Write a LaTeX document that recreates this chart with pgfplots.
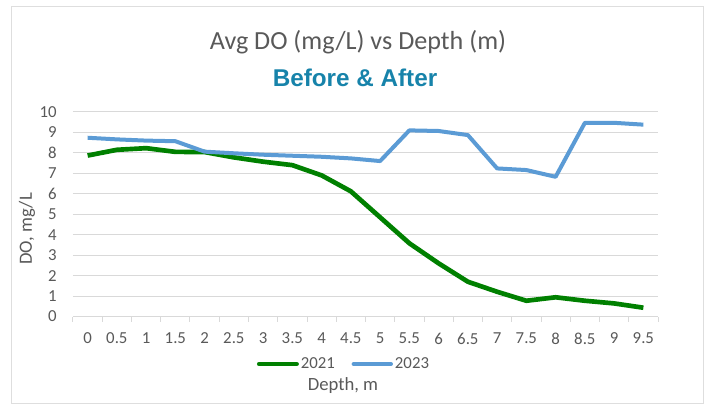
\documentclass[border=0pt]{standalone}
\usepackage{pgfplots}
\pgfplotsset{compat=1.18}
\usepackage{fontspec}
\setmainfont{Carlito}
\newfontfamily\subfont{Liberation Sans}

\definecolor{txt}{RGB}{89,89,89}
\definecolor{gridc}{RGB}{217,217,217}
\definecolor{frame}{RGB}{222,222,222}
\definecolor{c2021}{RGB}{0,128,0}
\definecolor{c2023}{RGB}{91,155,213}
\definecolor{subc}{RGB}{23,131,170}

\begin{document}
\begin{tikzpicture}
\begin{scope}[x=0.75pt,y=-0.75pt]
  \path (0,0) rectangle (711,411);
  \draw[frame, line width=0.9pt] (11.5,6.5) rectangle (703.5,403.5);
  \node[txt, font=\fontsize{19.6}{23}\selectfont] at (358,42) {Avg DO (mg/L) vs Depth (m)};
  \node[subc, font=\subfont\bfseries\fontsize{18.2}{22}\selectfont] at (355,78) {Before \& After};
\end{scope}
\begin{axis}[
  at={(54.75pt,-237.375pt)}, anchor=south west,
  scale only axis, width=438.75pt, height=153.4pt,
  xmin=-0.5, xmax=19.5, ymin=0, ymax=10,
  axis x line*=bottom, axis y line*=left,
  y axis line style={draw=none},
  x axis line style={gridc, line width=0.75pt},
  ymajorgrids, grid style={gridc, line width=0.75pt},
  ytick={0,1,...,10},
  xtick={0,1,...,19},
  xticklabels={0,0.5,1,1.5,2,2.5,3,3.5,4,4.5,5,5.5,6,6.5,7,7.5,8,8.5,9,9.5},
  minor xtick={-0.5,0.5,...,19.5},
  major tick length=0pt, minor tick length=3.75pt,
  tick align=outside,
  major tick style={draw=none},
  minor x tick style={gridc, line width=0.75pt},
  /pgf/number format/assume math mode=true,
  tick label style={txt, font=\fontsize{12.6}{15}\selectfont, inner sep=0pt},
  xticklabel style={anchor=north, yshift=-12pt},
  yticklabel style={anchor=east, xshift=-12pt},
  ylabel={DO, mg/L}, xlabel={Depth, m},
  every axis y label/.style={at={(axis description cs:-0.0786,0.428)}, rotate=90,
    anchor=center, text=txt, font=\fontsize{14}{17}\selectfont},
  every axis x label/.style={at={(axis description cs:0.4615,-0.335)},
    anchor=center, text=txt, font=\fontsize{14}{17}\selectfont},
  legend columns=2,
  legend style={at={(axis description cs:0.4632,-0.232)}, anchor=center,
    draw=none, fill=none, inner sep=0pt,
    font=\fontsize{12.6}{15}\selectfont, text=txt,
    nodes={inner sep=1.5pt},
    /tikz/every even column/.append style={column sep=11pt}},
  legend image code/.code={\draw[#1, line cap=round] (0pt,0pt) -- (28pt,0pt);},
  line join=round,
]
\addplot[c2021, line width=3.5pt] coordinates {
  (0,7.87) (1,8.15) (2,8.23) (3,8.05) (4,8.04) (5,7.78) (6,7.57) (7,7.4)
  (8,6.9) (9,6.12) (10,4.85) (11,3.58) (12,2.6) (13,1.7) (14,1.21)
  (15,0.77) (16,0.94) (17,0.77) (18,0.64) (19,0.43)};
\addlegendentry{2021}
\addplot[c2023, line width=3pt] coordinates {
  (0,8.74) (1,8.66) (2,8.6) (3,8.57) (4,8.06) (5,7.98) (6,7.91) (7,7.86)
  (8,7.81) (9,7.73) (10,7.6) (11,9.1) (12,9.07) (13,8.87) (14,7.24)
  (15,7.16) (16,6.83) (17,9.47) (18,9.47) (19,9.38)};
\addlegendentry{2023}
\end{axis}
\end{tikzpicture}
\end{document}
